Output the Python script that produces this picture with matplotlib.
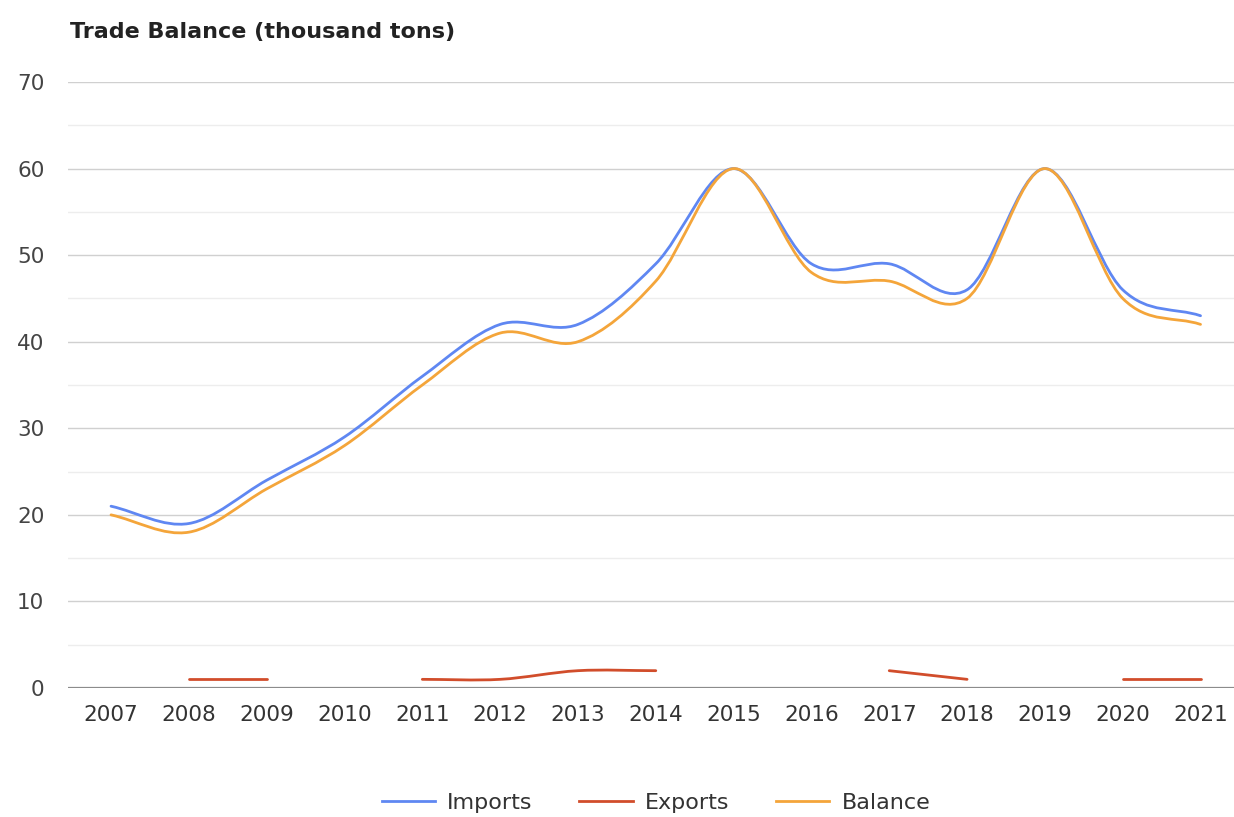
import numpy as np
import matplotlib
matplotlib.use("Agg")
import matplotlib.pyplot as plt
from matplotlib.path import Path
from matplotlib.patches import PathPatch
from matplotlib.lines import Line2D

plt.rcParams['font.family'] = ['DejaVu Sans']

years = ["2007", "2008", "2009", "2010", "2011", "2012", "2013", "2014",
         "2015", "2016", "2017", "2018", "2019", "2020", "2021"]
imports = [21, 19, 24, 29, 36, 42, 42, 49, 60, 49, 49, 46, 60, 46, 43]
balance = [20, 18, 23, 28, 35, 41, 40, 47, 60, 48, 47, 45, 60, 45, 42]
exports = [None, 1, 1, None, 1, 1, 2, 2, None, None, 2, 1, None, 1, 1]

C_IMP = "#5f87f2"
C_EXP = "#d14d2b"
C_BAL = "#f4a53a"


def smooth_path(xs, ys):
    xs = np.asarray(xs, float)
    ys = np.asarray(ys, float)
    n = len(xs)
    verts = [(xs[0], ys[0])]
    codes = [Path.MOVETO]
    if n == 2:
        verts.append((xs[1], ys[1]))
        codes.append(Path.LINETO)
        return Path(verts, codes)
    t = np.zeros(n)
    for i in range(n):
        if i == 0:
            t[i] = (ys[1] - ys[0]) / (xs[1] - xs[0])
        elif i == n - 1:
            t[i] = (ys[-1] - ys[-2]) / (xs[-1] - xs[-2])
        else:
            t[i] = (ys[i + 1] - ys[i - 1]) / (xs[i + 1] - xs[i - 1])
    for i in range(n - 1):
        dx = xs[i + 1] - xs[i]
        c1 = (xs[i] + dx / 3, ys[i] + t[i] * dx / 3)
        c2 = (xs[i + 1] - dx / 3, ys[i + 1] - t[i + 1] * dx / 3)
        verts += [c1, c2, (xs[i + 1], ys[i + 1])]
        codes += [Path.CURVE4] * 3
    return Path(verts, codes)


def draw_series(ax, vals, color):
    seg_x, seg_y = [], []
    segs = []
    for i, v in enumerate(vals):
        if v is None:
            if seg_x:
                segs.append((seg_x, seg_y))
            seg_x, seg_y = [], []
        else:
            seg_x.append(i)
            seg_y.append(v)
    if seg_x:
        segs.append((seg_x, seg_y))
    for sx, sy in segs:
        if len(sx) == 1:
            ax.plot(sx, sy, color=color, lw=2)
        else:
            p = smooth_path(sx, sy)
            ax.add_patch(PathPatch(p, facecolor="none", edgecolor=color,
                                   lw=2, capstyle="round", zorder=3))


fig = plt.figure(figsize=(12.34, 8.17), dpi=100)
ax = fig.add_axes([68 / 1234, 1 - 688 / 817, 1 - 68 / 1234, (688 - 82) / 817])

x = np.arange(len(years))
ax.set_xlim(-0.553, 14.43)
ax.set_ylim(0, 70)

for yv in range(5, 70, 10):
    ax.axhline(yv, color="#ededed", lw=1, zorder=0)
for yv in range(10, 71, 10):
    ax.axhline(yv, color="#d0d0d0", lw=1, zorder=0)
ax.axhline(0, color="#8c8c8c", lw=1.6, zorder=4)

draw_series(ax, imports, C_IMP)
draw_series(ax, exports, C_EXP)
draw_series(ax, balance, C_BAL)

for s in ax.spines.values():
    s.set_visible(False)
ax.set_xticks(x)
ax.set_xticklabels(years, fontsize=15.5, color="#333333")
ax.set_yticks(range(0, 71, 10))
ax.set_yticklabels([str(v) for v in range(0, 71, 10)], fontsize=15.5, color="#444444")
ax.tick_params(axis="both", length=0)
ax.tick_params(axis="x", pad=12)
ax.tick_params(axis="y", pad=17)

fig.text(70 / 1234, 1 - 32 / 817, "Trade Balance (thousand tons)", fontsize=16,
         fontweight="bold", color="#222222", va="center", ha="left")

handles = [Line2D([], [], color=C_IMP, lw=2),
           Line2D([], [], color=C_EXP, lw=2),
           Line2D([], [], color=C_BAL, lw=2)]
fig.legend(handles, ["Imports", "Exports", "Balance"], loc="center",
           bbox_to_anchor=(656 / 1234, 1 - 803 / 817), ncol=3, frameon=False,
           fontsize=16, handlelength=2.4, columnspacing=2.1, handletextpad=0.55,
           labelcolor="#333333")

fig.savefig("out.png", dpi=100, facecolor="white")
